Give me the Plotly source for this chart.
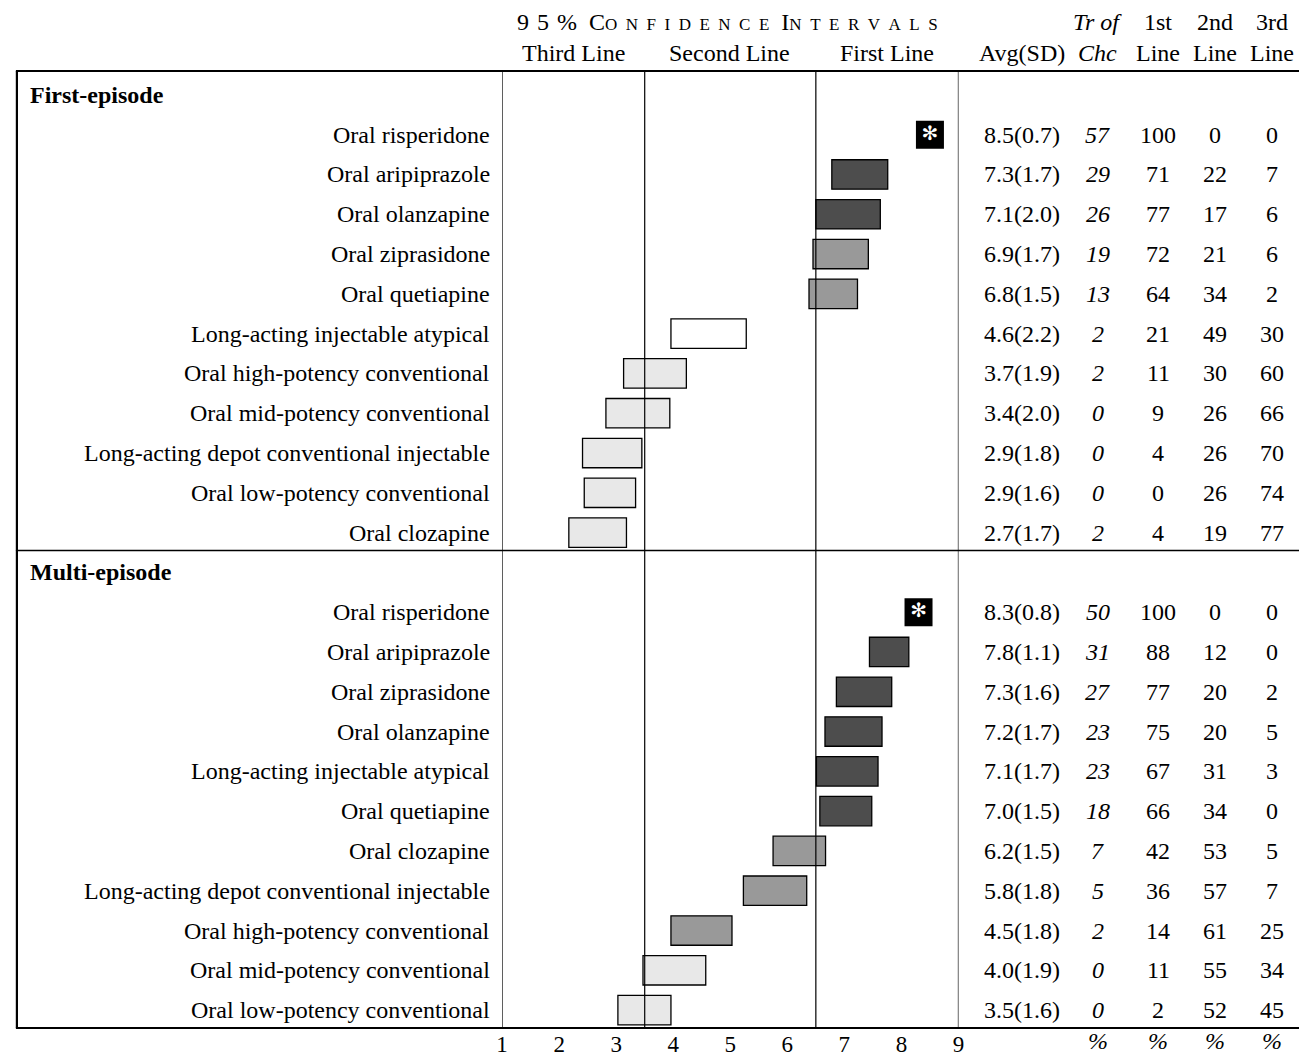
import plotly.graph_objects as go

# ---------------- data ----------------
section_titles = ["First-episode", "Multi-episode"]

fe_names = ["Oral risperidone", "Oral aripiprazole", "Oral olanzapine", "Oral ziprasidone",
            "Oral quetiapine", "Long-acting injectable atypical", "Oral high-potency conventional",
            "Oral mid-potency conventional", "Long-acting depot conventional injectable",
            "Oral low-potency conventional", "Oral clozapine"]
fe_avg = [8.5, 7.3, 7.1, 6.9, 6.8, 4.6, 3.7, 3.4, 2.9, 2.9, 2.7]
fe_sd = [0.7, 1.7, 2.0, 1.7, 1.5, 2.2, 1.9, 2.0, 1.8, 1.6, 1.7]
fe_trchc = [57, 29, 26, 19, 13, 2, 2, 0, 0, 0, 2]
fe_first = [100, 71, 77, 72, 64, 21, 11, 9, 4, 0, 4]
fe_second = [0, 22, 17, 21, 34, 49, 30, 26, 26, 26, 19]
fe_third = [0, 7, 6, 6, 2, 30, 60, 66, 70, 74, 77]
fe_ci_lo = [None, 6.78, 6.50, 6.45, 6.38, 3.96, 3.13, 2.82, 2.41, 2.44, 2.17]
fe_ci_hi = [None, 7.76, 7.63, 7.42, 7.23, 5.28, 4.23, 3.94, 3.45, 3.34, 3.18]
fe_tier = ["top", "first", "first", "high-second", "high-second", "second",
           "third", "third", "third", "third", "third"]

me_names = ["Oral risperidone", "Oral aripiprazole", "Oral ziprasidone", "Oral olanzapine",
            "Long-acting injectable atypical", "Oral quetiapine", "Oral clozapine",
            "Long-acting depot conventional injectable", "Oral high-potency conventional",
            "Oral mid-potency conventional", "Oral low-potency conventional"]
me_avg = [8.3, 7.8, 7.3, 7.2, 7.1, 7.0, 6.2, 5.8, 4.5, 4.0, 3.5]
me_sd = [0.8, 1.1, 1.6, 1.7, 1.7, 1.5, 1.5, 1.8, 1.8, 1.9, 1.6]
me_trchc = [50, 31, 27, 23, 23, 18, 7, 5, 2, 0, 0]
me_first = [100, 88, 77, 75, 67, 66, 42, 36, 14, 11, 2]
me_second = [0, 12, 20, 20, 31, 34, 53, 57, 61, 55, 52]
me_third = [0, 0, 2, 5, 3, 0, 5, 7, 25, 34, 45]
me_ci_lo = [None, 7.44, 6.86, 6.66, 6.51, 6.57, 5.75, 5.23, 3.96, 3.47, 3.03]
me_ci_hi = [None, 8.13, 7.83, 7.66, 7.59, 7.48, 6.67, 6.34, 5.03, 4.57, 3.96]
me_tier = ["top", "first", "first", "first", "first", "first",
           "high-second", "high-second", "high-second", "third", "third"]

x_ticks = [1, 2, 3, 4, 5, 6, 7, 8, 9]
cut_points = [3.5, 6.5]
zone_labels = ["Third Line", "Second Line", "First Line"]

# ---------------- styles ----------------
FONT = "Liberation Serif"
FS = 24
tier_color = {"first": "#4d4d4d", "high-second": "#999999", "second": "#ffffff", "third": "#e8e8e8"}
W, H = 1305, 1057
X0_PX, X1_PX = 500.7, 961.3
TOP_PX, BOT_PX = 71, 1033


def px_x(p):
    return p / W


def px_y(p):
    return (BOT_PX - p) / (BOT_PX - TOP_PX)


col_x = {"avg": 1025, "tr": 1102, "c1": 1163, "c2": 1220, "c3": 1278}

sections = [
    (fe_names, fe_avg, fe_sd, fe_trchc, fe_first, fe_second, fe_third, fe_ci_lo, fe_ci_hi, fe_tier),
    (me_names, me_avg, me_sd, me_trchc, me_first, me_second, me_third, me_ci_lo, me_ci_hi, me_tier),
]

fig = go.Figure()
annotations = []


def txt_ann(x, y, text, yref="y", xanchor="center"):
    return dict(x=x, xref="paper", y=y, yref=yref, text=text, xanchor=xanchor,
                yanchor="middle", showarrow=False,
                font=dict(family=FONT, size=FS, color="black"))


bar_y, bar_base, bar_len, bar_col = [], [], [], []
star_x, star_y = [], []
header_rows = []
row = 0
for title, sec in zip(section_titles, sections):
    names, avg, sd, trc, f1, f2, f3, lo, hi, tier = sec
    header_rows.append(row)
    annotations.append(txt_ann(px_x(22), row, "<b>%s</b>" % title, xanchor="left"))
    row += 1
    for i in range(len(names)):
        annotations.append(txt_ann(px_x(491), row, names[i], xanchor="right"))
        cells = [("avg", "%.1f(%.1f)" % (avg[i], sd[i])), ("tr", "<i>%d</i>" % trc[i]),
                 ("c1", str(f1[i])), ("c2", str(f2[i])), ("c3", str(f3[i]))]
        for key, t in cells:
            annotations.append(txt_ann(px_x(col_x[key]), row, t))
        if tier[i] == "top":
            star_x.append(avg[i])
            star_y.append(row)
        else:
            bar_y.append(row)
            bar_base.append(lo[i])
            bar_len.append(hi[i] - lo[i])
            bar_col.append(tier_color[tier[i]])
        row += 1

fig.add_trace(go.Bar(orientation="h", y=bar_y, base=bar_base, x=bar_len, width=0.74,
                     marker=dict(color=bar_col, line=dict(color="black", width=1.3)),
                     hoverinfo="skip", showlegend=False))
fig.add_trace(go.Scatter(x=star_x, y=star_y, mode="markers+text", text=["\u273B"] * len(star_x),
                         textposition="middle center",
                         textfont=dict(family="DejaVu Sans", size=20, color="white"),
                         marker=dict(symbol="square", size=28, color="black"),
                         hoverinfo="skip", showlegend=False))

# ---------------- header ----------------
sm = "<span style='font-size:17px'>%s</span>"
sp = "\u2002"
conf = ("9\u20045\u2004%" + sp + "C" + sm % sp.join("ONFIDENCE") + sp +
        "I" + sm % sp.join("NTERVALS"))
hdr1 = px_y(22)
hdr2 = px_y(53)
annotations.append(txt_ann(px_x(728), hdr1, conf, yref="paper"))
for lab, xp in zip(zone_labels, [573, 730, 889]):
    annotations.append(txt_ann(px_x(xp), hdr2, lab, yref="paper"))
top_hdr = [("tr", "<i>Tr of</i>"), ("c1", "1st"), ("c2", "2nd"), ("c3", "3rd")]
bot_hdr = [("avg", "Avg(SD)"), ("tr", "<i>Chc</i>"), ("c1", "Line"), ("c2", "Line"), ("c3", "Line")]
for key, t in top_hdr:
    annotations.append(txt_ann(px_x(col_x[key]), hdr1, t, yref="paper"))
for key, t in bot_hdr:
    annotations.append(txt_ann(px_x(col_x[key]), hdr2, t, yref="paper"))
for key in ["tr", "c1", "c2", "c3"]:
    annotations.append(txt_ann(px_x(col_x[key]), px_y(1046), "<i>%</i>", yref="paper"))

# ---------------- lines ----------------
shapes = []
for xv in [x_ticks[0]] + cut_points + [x_ticks[-1]]:
    shapes.append(dict(type="line", xref="x", yref="paper", x0=xv, x1=xv, y0=0, y1=1,
                       line=dict(color="black", width=1.2)))
for yv in [0, 1]:
    shapes.append(dict(type="line", xref="paper", yref="paper", x0=px_x(10), x1=1.0, y0=yv, y1=yv,
                       line=dict(color="black", width=2.2)))
shapes.append(dict(type="line", xref="paper", yref="paper", x0=px_x(11), x1=px_x(11), y0=0, y1=1,
                   line=dict(color="black", width=2.2)))
mid = (header_rows[1] - 1 + header_rows[1]) / 2 - 0.05
shapes.append(dict(type="line", xref="paper", yref="y", x0=px_x(10), x1=1.0, y0=mid, y1=mid,
                   line=dict(color="black", width=1.3)))

fig.update_layout(
    width=W, height=H,
    margin=dict(l=0, r=0, t=TOP_PX, b=H - BOT_PX, pad=0),
    paper_bgcolor="white", plot_bgcolor="white",
    barmode="overlay",
    xaxis=dict(domain=[px_x(X0_PX), px_x(X1_PX)], range=[x_ticks[0], x_ticks[-1]],
               tickvals=x_ticks, ticktext=[str(t) for t in x_ticks], showgrid=False,
               zeroline=False, showline=False, ticks="",
               tickfont=dict(family=FONT, size=23, color="black")),
    yaxis=dict(domain=[0, 1], range=[(BOT_PX - 95) / 40, (TOP_PX - 95) / 40], visible=False,
               showgrid=False, zeroline=False),
    annotations=annotations,
    shapes=shapes,
    showlegend=False,
)

fig.write_html("out.html", config={"displayModeBar": False},
               post_script="document.body.style.margin='0';document.body.style.overflow='hidden';")
